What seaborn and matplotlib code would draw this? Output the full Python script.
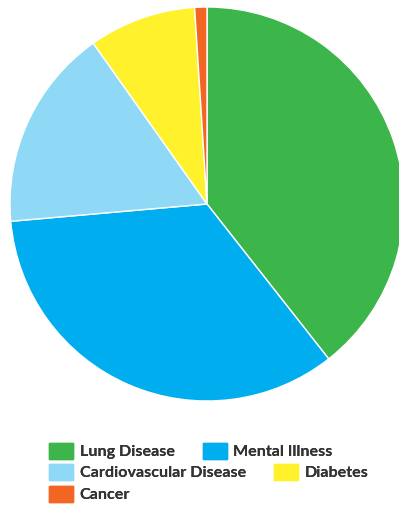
import matplotlib
matplotlib.use("Agg")
import matplotlib.pyplot as plt
import matplotlib.patches as mpatches
import seaborn as sns

# ========= Data =========
categories = ["Lung Disease", "Mental Illness", "Cardiovascular Disease", "Diabetes", "Cancer"]
shares = [39.4, 34.2, 16.6, 8.8, 1.0]
colors = ["#3cb54a", "#00aeef", "#8fd9f6", "#fff22d", "#f26522"]

# ========= Style =========
sns.set_theme(style="white")
plt.rcParams["font.family"] = ["Lato", "DejaVu Sans"]

fig = plt.figure(figsize=(3.99, 5.05), dpi=100)
ax = fig.add_axes([10 / 399, 104 / 505, 394 / 399, 394 / 505])
ax.pie(shares, colors=sns.color_palette(colors), startangle=90, counterclock=False,
       wedgeprops=dict(edgecolor="white", linewidth=1))
ax.set_aspect("equal")
ax.set_xlim(-1, 1)
ax.set_ylim(-1, 1)

# ========= Legend (flow layout, three rows) =========
handles = {c: mpatches.Patch(color=col, label=c) for c, col in zip(categories, colors)}
rows = [(["Lung Disease", "Mental Illness"], 451),
        (["Cardiovascular Disease", "Diabetes"], 472),
        (["Cancer"], 494)]
for names, ypix in rows:
    leg = fig.legend(handles=[handles[n] for n in names], ncol=len(names),
                     loc="center left", bbox_to_anchor=(49 / 399, 1 - ypix / 505),
                     frameon=False, prop=dict(size=11.6, weight="bold"),
                     handlelength=1.5, handleheight=1.15,
                     handletextpad=0.4, columnspacing=1.75, borderpad=0, borderaxespad=0)
    for t in leg.get_texts():
        t.set_color("#333333")
    fig.add_artist(leg)

fig.savefig("out.png", dpi=100)
